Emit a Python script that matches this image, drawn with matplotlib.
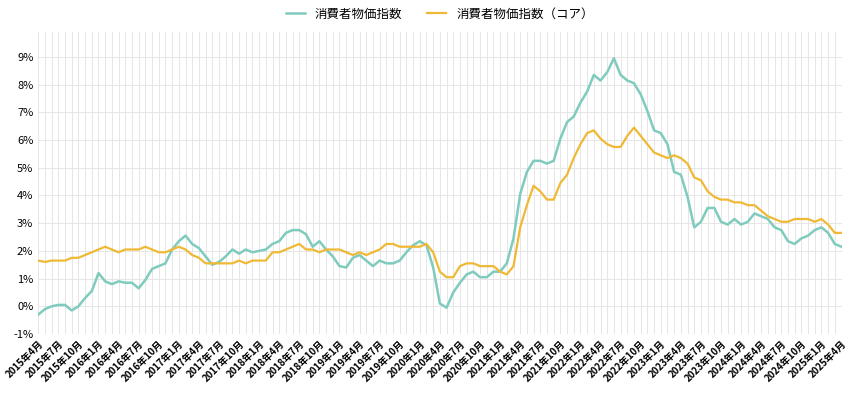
import matplotlib
matplotlib.use("Agg")
import matplotlib.pyplot as plt
import pandas as pd

plt.rcParams["font.family"] = ["Noto Sans CJK JP", "DejaVu Sans"]

series_names = ["消費者物価指数", "消費者物価指数（コア）"]
headline = [-0.3, -0.1, 0.0, 0.05, 0.05, -0.15, 0.0, 0.3, 0.55,
            1.2, 0.9, 0.8, 0.9, 0.85, 0.85, 0.65, 0.95, 1.35, 1.45, 1.55, 2.05,
            2.35, 2.55, 2.25, 2.1, 1.8, 1.5, 1.6, 1.8, 2.05, 1.9, 2.05, 1.95,
            2.0, 2.05, 2.25, 2.35, 2.65, 2.75, 2.75, 2.6, 2.15, 2.35, 2.05, 1.8,
            1.45, 1.4, 1.75, 1.85, 1.65, 1.45, 1.65, 1.55, 1.55, 1.65, 1.95, 2.2,
            2.35, 2.2, 1.4, 0.1, -0.05, 0.5, 0.85, 1.15, 1.25, 1.05, 1.05, 1.25,
            1.25, 1.55, 2.45, 4.05, 4.85, 5.25, 5.25, 5.15, 5.25, 6.05, 6.65, 6.85,
            7.35, 7.75, 8.35, 8.15, 8.45, 8.95, 8.35, 8.15, 8.05, 7.65, 7.05, 6.35,
            6.25, 5.85, 4.85, 4.75, 3.95, 2.85, 3.05, 3.55, 3.55, 3.05, 2.95, 3.15,
            2.95, 3.05, 3.35, 3.25, 3.15, 2.85, 2.75, 2.35, 2.25, 2.45, 2.55, 2.75,
            2.85, 2.65, 2.25, 2.15]
core = [1.65, 1.6, 1.65, 1.65, 1.65, 1.75, 1.75, 1.85, 1.95,
        2.05, 2.15, 2.05, 1.95, 2.05, 2.05, 2.05, 2.15, 2.05, 1.95, 1.95, 2.05,
        2.15, 2.05, 1.85, 1.75, 1.55, 1.55, 1.55, 1.55, 1.55, 1.65, 1.55, 1.65,
        1.65, 1.65, 1.95, 1.95, 2.05, 2.15, 2.25, 2.05, 2.05, 1.95, 2.05, 2.05,
        2.05, 1.95, 1.85, 1.95, 1.85, 1.95, 2.05, 2.25, 2.25, 2.15, 2.15, 2.15,
        2.15, 2.25, 1.95, 1.25, 1.05, 1.05, 1.45, 1.55, 1.55, 1.45, 1.45, 1.45,
        1.25, 1.15, 1.45, 2.85, 3.65, 4.35, 4.15, 3.85, 3.85, 4.45, 4.75, 5.35,
        5.85, 6.25, 6.35, 6.05, 5.85, 5.75, 5.75, 6.15, 6.45, 6.15, 5.85, 5.55,
        5.45, 5.35, 5.45, 5.35, 5.15, 4.65, 4.55, 4.15, 3.95, 3.85, 3.85, 3.75,
        3.75, 3.65, 3.65, 3.45, 3.25, 3.15, 3.05, 3.05, 3.15, 3.15, 3.15, 3.05,
        3.15, 2.95, 2.65, 2.65]
dates = pd.date_range("2015-04-01", periods=len(headline), freq="MS")
labels = [f"{d.year}年{d.month}月" for d in dates]
yticks = list(range(-1, 10))

fig = plt.figure(figsize=(8.5, 4.0), dpi=100)
ax = fig.add_axes([0.045, 0.165, 0.945, 0.755])
x = list(range(len(dates)))
ax.plot(x, headline, color="#7fcbbd", lw=1.8, label=series_names[0])
ax.plot(x, core, color="#f0b935", lw=1.6, label=series_names[1])
ax.set_xlim(0, len(x) - 1)
ax.set_ylim(-1, 9.9)
ax.set_yticks(yticks)
ax.set_yticklabels([f"{v}%" for v in yticks], fontsize=8)
ax.set_xticks(x, minor=True)
ax.set_xticks(x[::3])
ax.set_xticklabels(labels[::3], rotation=45, ha="right", rotation_mode="anchor",
                   fontsize=7, fontweight="bold")
ax.grid(True, which="both", color="#e6e6e6", lw=0.7)
ax.tick_params(which="both", length=0)
for s in ax.spines.values():
    s.set_visible(False)
ax.legend(loc="lower center", bbox_to_anchor=(0.5, 1.0), ncol=2, frameon=False,
          fontsize=9, handlelength=1.5)
fig.savefig("out.png")
